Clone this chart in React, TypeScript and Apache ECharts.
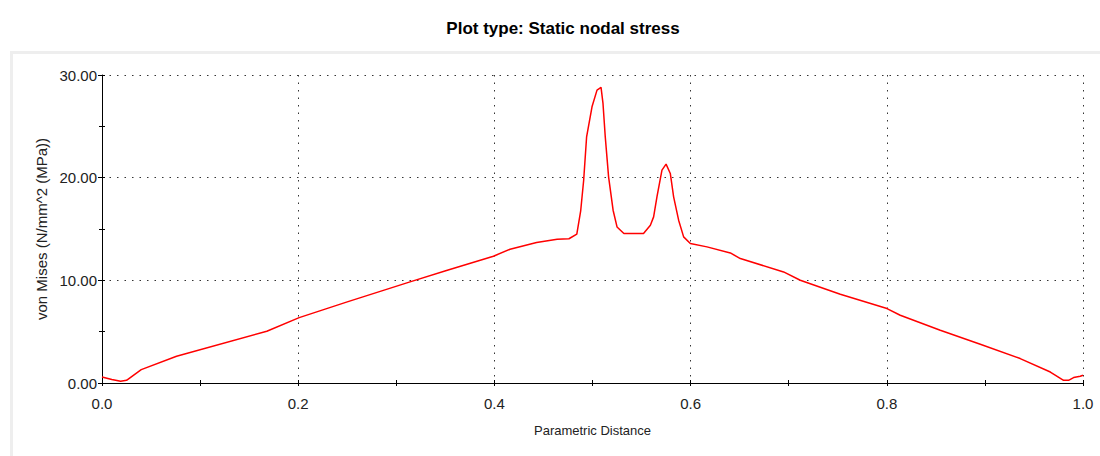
import React, { useEffect, useRef } from "react";
import * as echarts from "echarts";

const title = "Plot type: Static nodal stress";
const xAxisName = "Parametric Distance";
const yAxisName = "von Mises (N/mm^2 (MPa))";

const distance = [
  0, 0.01, 0.019, 0.025, 0.04, 0.076, 0.168, 0.201, 0.25, 0.314, 0.352, 0.399,
  0.416, 0.443, 0.464, 0.476, 0.484, 0.488, 0.491, 0.494, 0.4995, 0.5046,
  0.5087, 0.5107, 0.513, 0.5164, 0.521, 0.525, 0.532, 0.552, 0.559, 0.5623,
  0.5657, 0.5708, 0.575, 0.5793, 0.5827, 0.5878, 0.5929, 0.5997, 0.6167,
  0.6405, 0.6507, 0.6948, 0.7118, 0.7526, 0.8002, 0.8137, 0.8545, 0.8953,
  0.936, 0.9667, 0.9802, 0.9853, 0.9904, 0.9972, 1.0,
];
const vonMises = [
  0.58, 0.35, 0.17, 0.26, 1.3, 2.6, 5.04, 6.37, 7.9, 9.85, 10.98, 12.35,
  13.03, 13.68, 14.0, 14.05, 14.5, 16.8, 19.75, 23.98, 26.9, 28.53,
  28.79, 27.23, 23.98, 20.08, 16.83, 15.2, 14.56, 14.56, 15.37, 16.18,
  18.13, 20.73, 21.32, 20.41, 18.13, 15.86, 14.23, 13.59, 13.26,
  12.67, 12.12, 10.82, 10.01, 8.65, 7.25, 6.6, 5.14, 3.77,
  2.38, 1.07, 0.26, 0.26, 0.53, 0.65, 0.75,
];

const FONT = "Liberation Sans, Arial, sans-serif";
const dotted = { type: [1.5, 6] as number[], color: "#333", width: 1 };

export default function App() {
  const ref = useRef<HTMLDivElement>(null);
  useEffect(() => {
    if (!ref.current) return;
    const chart = echarts.init(ref.current, null, { renderer: "svg" });
    const gridBox = { left: 102, right: 17, top: 75, bottom: 73 };
    chart.setOption({
      animation: false,
      backgroundColor: "#ffffff",
      title: {
        text: title,
        left: 558,
        top: 15,
        textAlign: "center",
        textStyle: { fontSize: 17, fontWeight: "bold", color: "#000", fontFamily: FONT },
      },
      graphic: [
        {
          type: "rect",
          z: -10,
          shape: { x: 11.5, y: 52.5, width: 1200, height: 600 },
          style: { fill: "#ffffff", stroke: "#eeeeee", lineWidth: 3 },
        },
      ],
      grid: [
        { ...gridBox },
        { ...gridBox },
      ],
      xAxis: [
        {
          type: "value",
          gridIndex: 0,
          min: 0,
          max: 1,
          interval: 0.2,
          name: xAxisName,
          nameLocation: "middle",
          nameGap: 41,
          nameTextStyle: { fontSize: 13, color: "#222", fontFamily: FONT },
          axisLine: { show: true, lineStyle: { color: "#000", width: 1 } },
          axisTick: { show: true, length: 3, lineStyle: { color: "#000" } },
          minorTick: { show: true, splitNumber: 2, length: 3, lineStyle: { color: "#000" } },
          axisLabel: {
            fontSize: 15,
            color: "#222",
            fontFamily: FONT,
            margin: 13,
            formatter: (v: number) => v.toFixed(1),
          },
          splitLine: { show: true, lineStyle: dotted },
        },
        {
          type: "value",
          gridIndex: 1,
          min: 0,
          max: 1,
          interval: 0.1,
          axisLine: { show: false },
          axisTick: { show: true, inside: true, length: 3, lineStyle: { color: "#000" } },
          axisLabel: { show: false },
          splitLine: { show: false },
        },
      ],
      yAxis: [
        {
          type: "value",
          gridIndex: 0,
          min: 0,
          max: 30,
          interval: 10,
          name: yAxisName,
          nameLocation: "middle",
          nameGap: 52,
          nameTextStyle: { fontSize: 15, color: "#222", fontFamily: FONT },
          axisLine: { show: true, lineStyle: { color: "#000", width: 1 } },
          axisTick: { show: true, length: 4, lineStyle: { color: "#000" } },
          minorTick: { show: true, splitNumber: 2, length: 3, lineStyle: { color: "#000" } },
          axisLabel: {
            fontSize: 15,
            color: "#222",
            fontFamily: FONT,
            margin: 5,
            formatter: (v: number) => v.toFixed(2),
          },
          splitLine: { show: true, lineStyle: dotted },
        },
        {
          type: "value",
          gridIndex: 1,
          min: 0,
          max: 30,
          interval: 5,
          axisLine: { show: false },
          axisTick: { show: true, inside: true, length: 3, lineStyle: { color: "#000" } },
          axisLabel: { show: false },
          splitLine: { show: false },
        },
      ],
      series: [
        {
          type: "line",
          xAxisIndex: 0,
          yAxisIndex: 0,
          data: distance.map((d, i) => [d, vonMises[i]]),
          showSymbol: false,
          lineStyle: { color: "#ff0000", width: 1.5 },
          z: 5,
        },
      ],
    });
    return () => chart.dispose();
  }, []);
  return (
    <div
      ref={ref}
      style={{ position: "fixed", left: 0, top: 0, width: 1100, height: 456 }}
    />
  );
}
